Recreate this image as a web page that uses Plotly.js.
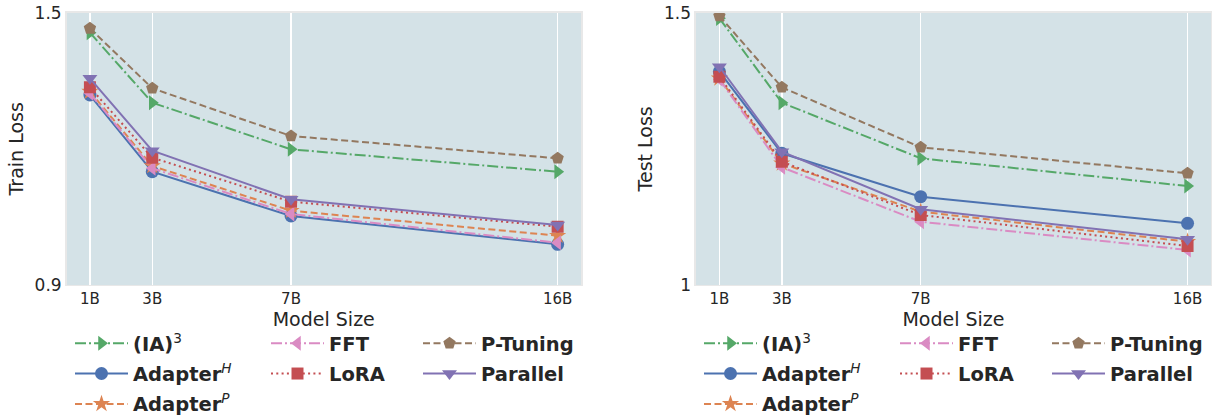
<!DOCTYPE html>
<html>
<head>
<meta charset="utf-8">
<script src="https://cdn.plot.ly/plotly-3.0.1.min.js"></script>
<style>html,body{margin:0;padding:0;background:#fff;}#chart{width:1214px;height:418px;}</style>
</head>
<body>
<div id="chart"></div>
<script>
// ---- data ----
const modelSizes = [1, 3, 7.45, 16];
const sizeLabels = ["1B", "3B", "7B", "16B"];

const trainIA3      = [1.456, 1.3017, 1.199, 1.1496];
const trainAdapterH = [1.3186, 1.1496, 1.052, 0.9896];
const trainAdapterP = [1.326, 1.1622, 1.0637, 1.0086];
const trainFFT      = [1.3224, 1.1571, 1.0564, 0.9932];
const trainLoRA     = [1.3356, 1.1805, 1.0835, 1.0284];
const trainPTuning  = [1.4655, 1.3334, 1.2283, 1.1791];
const trainParallel = [1.3554, 1.1959, 1.0888, 1.0322];

const testIA3      = [1.4896, 1.3347, 1.2326, 1.1818];
const testAdapterH = [1.3917, 1.2418, 1.1621, 1.1133];
const testAdapterP = [1.3795, 1.2234, 1.1346, 1.0795];
const testFFT      = [1.3777, 1.2161, 1.1162, 1.0643];
const testLoRA     = [1.3825, 1.2264, 1.1285, 1.0716];
const testPTuning  = [1.494, 1.363, 1.2528, 1.2051];
const testParallel = [1.4008, 1.2448, 1.139, 1.0839];

const methodNames = ["<b>(IA)</b><sup>3</sup>", "<b>Adapter</b><sup><i>H</i></sup>", "<b>Adapter</b><sup><i>P</i></sup>",
                     "<b>FFT</b>", "<b>LoRA</b>", "<b>P-Tuning</b>", "<b>Parallel</b>"];

// ---- styles ----
const styles = [
  {color: "#55a868", symbol: "triangle-right", dash: "11px,3px,2px,3px", size: 13, col: 0},
  {color: "#4c72b0", symbol: "circle", dash: "solid", size: 13, col: 0},
  {color: "#dd8452", symbol: "star", dash: "7px,3.5px", size: 13, col: 0},
  {color: "#da8bc3", symbol: "triangle-left", dash: "11px,3px,2px,3px", size: 13, col: 1},
  {color: "#c44e52", symbol: "square", dash: "2px,3.3px", size: 12, col: 1},
  {color: "#937860", symbol: "pentagon", dash: "7px,3.5px", size: 13, col: 2},
  {color: "#8172b3", symbol: "triangle-down", dash: "solid", size: 13, col: 2}
];

const trainSeries = [trainIA3, trainAdapterH, trainAdapterP, trainFFT, trainLoRA, trainPTuning, trainParallel];
const testSeries  = [testIA3, testAdapterH, testAdapterP, testFFT, testLoRA, testPTuning, testParallel];

const traces = [];
function addTraces(series, xa, ya, legendBase) {
  series.forEach((vals, i) => {
    const st = styles[i];
    const lg = legendBase + st.col;
    traces.push({
      type: "scatter", mode: "lines+markers",
      x: modelSizes, y: vals, xaxis: xa, yaxis: ya,
      name: methodNames[i],
      legend: lg === 1 ? "legend" : "legend" + lg,
      legendgroup: "g" + legendBase + "_" + i,
      line: {color: st.color, width: 2, dash: st.dash},
      marker: {color: st.color, symbol: st.symbol, size: st.size, line: {width: 0}}
    });
  });
}
addTraces(trainSeries, "x", "y", 1);
addTraces(testSeries, "x2", "y2", 4);

const bg = "rgb(212,226,231)";
const tickFont = {family: "DejaVu Sans", size: 15, color: "#262626"};
const ytickFont = {family: "DejaVu Sans", size: 17, color: "#262626"};
const titleFont = {family: "DejaVu Sans", size: 19, color: "#262626"};

function xaxis(domain, anchor) {
  return {
    domain: domain, anchor: anchor, range: [0.25, 16.75],
    tickvals: modelSizes, ticktext: sizeLabels, tickfont: tickFont,
    showgrid: true, gridcolor: "#ffffff", gridwidth: 1.5,
    zeroline: false, ticks: "", showline: true, linecolor: "#e8e8e8", linewidth: 1.5, mirror: true,
    title: {text: "Model Size", font: titleFont, standoff: 2}
  };
}
function yaxis(anchor, range, tv, tt, title) {
  return {
    domain: [0.3182, 0.9696], anchor: anchor, range: range,
    tickvals: tv, ticktext: tt, tickfont: ytickFont,
    showgrid: false, zeroline: false, ticks: "", showline: true, linecolor: "#e8e8e8", linewidth: 1.5, mirror: true,
    title: {text: title, font: titleFont, standoff: 6}
  };
}

function legend(xpx, ypx) {
  return {
    x: xpx / 1214, y: 1 - ypx / 418, xanchor: "left", yanchor: "top",
    orientation: "v", traceorder: "grouped", tracegroupgap: 2,
    font: {family: "DejaVu Sans", size: 19.5, color: "#262626"},
    bgcolor: "rgba(0,0,0,0)", itemwidth: 53
  };
}

const layout = {
  width: 1214, height: 418,
  margin: {l: 0, r: 0, t: 0, b: 0, autoexpand: false},
  paper_bgcolor: "#ffffff", plot_bgcolor: bg,
  showlegend: true,
  xaxis: xaxis([0.0548, 0.4786], "y"),
  yaxis: yaxis("x", [0.9, 1.5], [0.9, 1.5], ["0.9", "1.5"], "Train Loss"),
  xaxis2: xaxis([0.5733, 0.9975], "y2"),
  yaxis2: yaxis("x2", [1.0, 1.5], [1.0, 1.5], ["1", "1.5"], "Test Loss"),
  legend: legend(70, 324),
  legend2: legend(266, 324),
  legend3: legend(418, 324),
  legend4: legend(699, 324),
  legend5: legend(895, 324),
  legend6: legend(1047, 324)
};

Plotly.newPlot("chart", traces, layout, {displayModeBar: false, staticPlot: true});
</script>
</body>
</html>
